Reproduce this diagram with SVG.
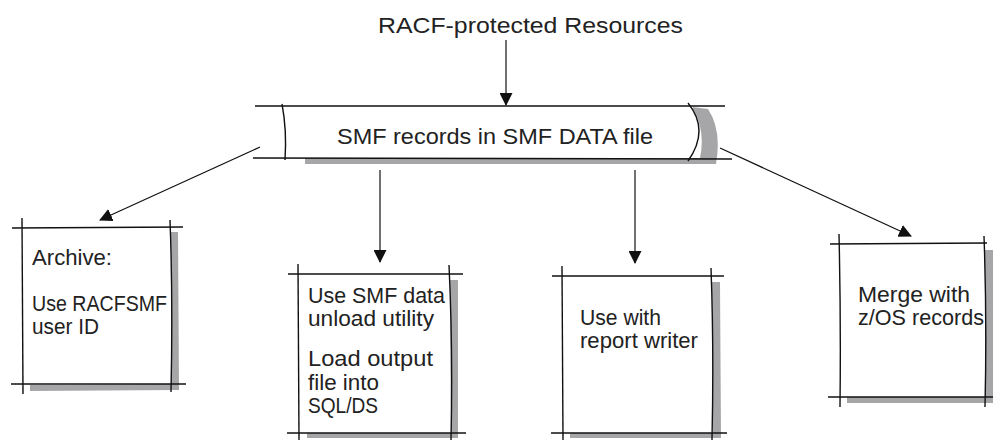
<svg xmlns="http://www.w3.org/2000/svg" width="996" height="440" viewBox="0 0 996 440">
<style>
.t{font-family:"Liberation Sans",Arial,sans-serif;fill:#222;font-size:21.5px}
.ln{stroke:#111;stroke-width:1.4;fill:none}
.sh{fill:#a6a6a8;stroke:none}
.c{stroke:#111;stroke-width:1.2;fill:none}
</style>
<defs>
<marker id="ah" viewBox="0 0 13 13" refX="12" refY="6.5" markerWidth="13" markerHeight="13" markerUnits="userSpaceOnUse" orient="auto">
<path d="M0,0 L13,6.5 L0,13 Z" fill="#111"/>
</marker>
</defs>
<rect width="996" height="440" fill="#fff"/>
<text class="t" x="378" y="33" font-size="25" textLength="305" lengthAdjust="spacingAndGlyphs">RACF-protected Resources</text>

<g id="connectors">
<line class="c" x1="506" y1="40" x2="506" y2="105" marker-end="url(#ah)"/>
<line class="c" x1="260" y1="147" x2="100" y2="220" marker-end="url(#ah)"/>
<line class="c" x1="380" y1="170" x2="380" y2="262" marker-end="url(#ah)"/>
<line class="c" x1="635" y1="170" x2="635" y2="263" marker-end="url(#ah)"/>
<line class="c" x1="720" y1="148" x2="911" y2="236" marker-end="url(#ah)"/>
</g>

<g id="smf">
<path class="sh" d="M692,107 Q706,130 700,158 L305,158 L305,164 L716,164 Q722,130 708,109 Z"/>
<rect x="283" y="106" width="410" height="52" fill="#fff"/>
<line class="ln" x1="255" y1="106" x2="725" y2="106"/>
<line class="ln" x1="253" y1="158" x2="732" y2="159"/>
<path class="ln" d="M282,104 Q287,130 285,160"/>
<path class="ln" d="M688,103 Q710,130 688,161"/>
<text class="t" x="337" y="144" font-size="25" textLength="316" lengthAdjust="spacingAndGlyphs">SMF records in SMF DATA file</text>
</g>

<g id="archive">
<path class="sh" d="M171,232 L178,232 L179,390 L30,391 L30,385 L171,384 Z"/>
<path class="ln" d="M12,228 L183,227"/>
<path class="ln" d="M11,384 L186,384"/>
<path class="ln" d="M22,218 L23,394"/>
<path class="ln" d="M170,220 Q173,300 171,392"/>
<text class="t" x="32" y="265" textLength="80" lengthAdjust="spacingAndGlyphs">Archive:</text>
<text class="t" x="32" y="311" textLength="135" lengthAdjust="spacingAndGlyphs">Use RACFSMF</text>
<text class="t" x="32" y="334" textLength="67" lengthAdjust="spacingAndGlyphs">user ID</text>
</g>

<g id="unload">
<path class="sh" d="M450,280 L458,280 L458,438 L307,438 L307,433 L451,433 Z"/>
<path class="ln" d="M288,274 L463,274"/>
<path class="ln" d="M287,433 L466,433"/>
<path class="ln" d="M298,264 L299,440"/>
<path class="ln" d="M449,265 Q453,350 451,440"/>
<text class="t" x="308" y="303" textLength="137" lengthAdjust="spacingAndGlyphs">Use SMF data</text>
<text class="t" x="308" y="326" textLength="126" lengthAdjust="spacingAndGlyphs">unload utility</text>
<text class="t" x="308" y="366" textLength="125" lengthAdjust="spacingAndGlyphs">Load output</text>
<text class="t" x="308" y="390" textLength="71" lengthAdjust="spacingAndGlyphs">file into</text>
<text class="t" x="308" y="413" textLength="70" lengthAdjust="spacingAndGlyphs">SQL/DS</text>
</g>

<g id="report">
<path class="sh" d="M712,282 L720,282 L721,438 L570,438 L570,433 L713,433 Z"/>
<path class="ln" d="M552,276 L724,276"/>
<path class="ln" d="M551,433 L727,433"/>
<path class="ln" d="M562,266 L563,440"/>
<path class="ln" d="M711,268 Q714,350 712,440"/>
<text class="t" x="580" y="325" textLength="81" lengthAdjust="spacingAndGlyphs">Use with</text>
<text class="t" x="580" y="348" textLength="118" lengthAdjust="spacingAndGlyphs">report writer</text>
</g>

<g id="merge">
<path class="sh" d="M985,250 L993,250 L993,403 L847,403 L847,397 L985,397 Z"/>
<path class="ln" d="M830,244 L987,243"/>
<path class="ln" d="M828,397 L993,397"/>
<path class="ln" d="M839,234 Q841,320 840,407"/>
<path class="ln" d="M984,236 Q987,320 985,407"/>
<text class="t" x="858" y="302" textLength="112" lengthAdjust="spacingAndGlyphs">Merge with</text>
<text class="t" x="858" y="325" textLength="126" lengthAdjust="spacingAndGlyphs">z/OS records</text>
</g>
</svg>
